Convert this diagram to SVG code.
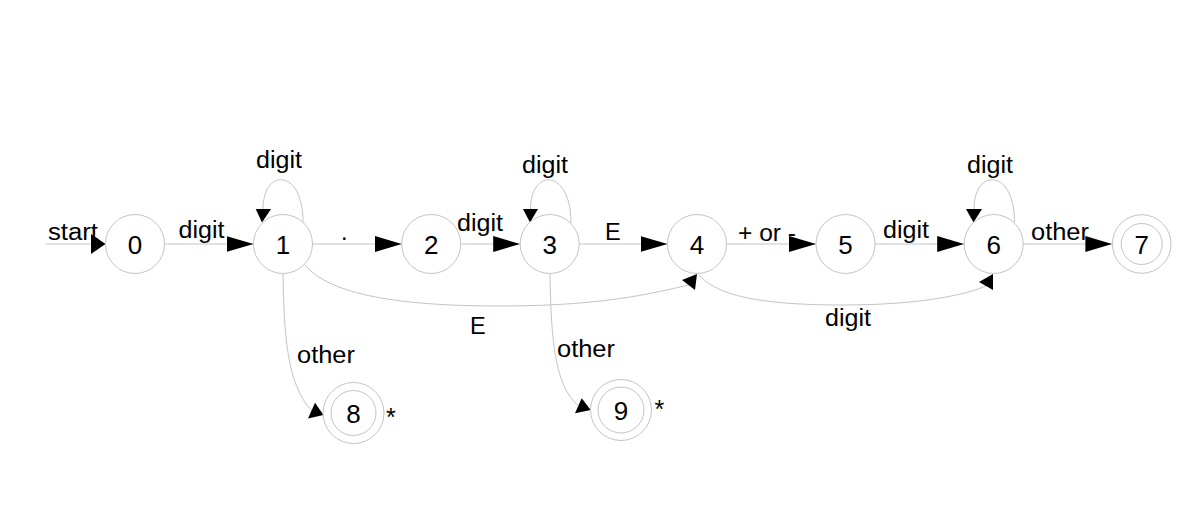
<svg xmlns="http://www.w3.org/2000/svg" width="1200" height="518" viewBox="0 0 1200 518">
<style>
.st{fill:#fff;stroke:#c4c4c4;stroke-width:1}
.num{font-family:"Liberation Sans",Arial,sans-serif;font-size:26px;fill:#000;text-anchor:middle}
.lbl{font-family:"Liberation Sans",Arial,sans-serif;font-size:23.5px;fill:#000}
.ast{font-family:"Liberation Sans",Arial,sans-serif;font-size:25px;fill:#000}
.ed{fill:none;stroke:#c4c4c4;stroke-width:1}
.ah{fill:#000;stroke:none}
</style>
<defs>
<marker id="big" markerUnits="userSpaceOnUse" markerWidth="27" markerHeight="16" refX="27" refY="8" orient="auto" viewBox="0 0 27 16">
<path d="M0,0 L27,8 L0,16 Z" fill="#000"/>
</marker>
</defs>
<rect width="1200" height="518" fill="#fff"/>
<g id="connectors">
<line class="ed" x1="46" y1="244" x2="105" y2="244"/>
<polygon class="ah" points="91,234 105.5,244 91,254"/>
<line class="ed" x1="164.5" y1="244" x2="253.5" y2="244" marker-end="url(#big)"/>
<line class="ed" x1="312.5" y1="244" x2="401.7" y2="244" marker-end="url(#big)"/>
<line class="ed" x1="460.7" y1="244" x2="520.2" y2="244" marker-end="url(#big)"/>
<line class="ed" x1="579.2" y1="244" x2="667.5" y2="244" marker-end="url(#big)"/>
<line class="ed" x1="726.5" y1="244" x2="816" y2="244" marker-end="url(#big)"/>
<line class="ed" x1="875" y1="244" x2="964.2" y2="244" marker-end="url(#big)"/>
<line class="ed" x1="1023.2" y1="244" x2="1112.4" y2="244" marker-end="url(#big)"/>
<path class="ed" d="M303,222 C303,168 263,168 263,209"/>
<polygon class="ah" points="255.7,209 271,209 262,222.5"/>
<path class="ed" d="M571,223 C571,168 530.5,168 530.5,209"/>
<polygon class="ah" points="523,209 538,209 530,222.5"/>
<path class="ed" d="M1014.5,222 C1014.5,168 974,168 974,209"/>
<polygon class="ah" points="966,209 982,209 973.5,222.5"/>
<path class="ed" d="M305,265 C330,295 400,306 500,306 C600,306 650,294 688.5,285"/>
<polygon class="ah" points="697,274 682,280 695,290"/>
<path class="ed" d="M699,275 C720,300 780,305 843,305 C910,305 960,297 986,286"/>
<polygon class="ah" points="993,274 979,282 993,290"/>
<path class="ed" d="M283,274 C284,335 287,385 311.7,410.5"/>
<polygon class="ah" points="323.5,415 308,418.5 315,402.7"/>
<path class="ed" d="M550,274 C551,330 553,385 578.3,405.8"/>
<polygon class="ah" points="590.7,410 575,413.3 581.7,398.3"/>
</g>
<g id="labels">
<text class="lbl" x="48" y="240" textLength="50" lengthAdjust="spacingAndGlyphs">start</text>
<text class="lbl" x="178.5" y="238" textLength="46" lengthAdjust="spacingAndGlyphs">digit</text>
<text class="lbl" x="341" y="240">.</text>
<text class="lbl" x="457" y="231" textLength="46" lengthAdjust="spacingAndGlyphs">digit</text>
<text class="lbl" x="605" y="240">E</text>
<text class="lbl" x="738" y="241" textLength="58" lengthAdjust="spacingAndGlyphs">+ or -</text>
<text class="lbl" x="883" y="238" textLength="46" lengthAdjust="spacingAndGlyphs">digit</text>
<text class="lbl" x="1031" y="239.5" textLength="58" lengthAdjust="spacingAndGlyphs">other</text>
<text class="lbl" x="256" y="168" textLength="46" lengthAdjust="spacingAndGlyphs">digit</text>
<text class="lbl" x="522" y="173" textLength="46" lengthAdjust="spacingAndGlyphs">digit</text>
<text class="lbl" x="967" y="173" textLength="46" lengthAdjust="spacingAndGlyphs">digit</text>
<text class="lbl" x="470" y="334">E</text>
<text class="lbl" x="825" y="326" textLength="46" lengthAdjust="spacingAndGlyphs">digit</text>
<text class="lbl" x="297" y="363" textLength="58" lengthAdjust="spacingAndGlyphs">other</text>
<text class="lbl" x="557" y="357" textLength="58" lengthAdjust="spacingAndGlyphs">other</text>
</g>
<g id="n0"><circle class="st" cx="135" cy="244" r="29.5"/><text class="num" x="135" y="253.5">0</text></g>
<g id="n1"><circle class="st" cx="283" cy="244" r="29.5"/><text class="num" x="283" y="253.5">1</text></g>
<g id="n2"><circle class="st" cx="431.2" cy="244" r="29.5"/><text class="num" x="431.2" y="253.5">2</text></g>
<g id="n3"><circle class="st" cx="549.7" cy="244" r="29.5"/><text class="num" x="549.7" y="253.5">3</text></g>
<g id="n4"><circle class="st" cx="697" cy="244" r="29.5"/><text class="num" x="697" y="253.5">4</text></g>
<g id="n5"><circle class="st" cx="845.5" cy="244" r="29.5"/><text class="num" x="845.5" y="253.5">5</text></g>
<g id="n6"><circle class="st" cx="993.7" cy="244" r="29.5"/><text class="num" x="993.7" y="253.5">6</text></g>
<g id="n7"><circle class="st" cx="1141.7" cy="244" r="29.3"/><circle class="st" cx="1141.7" cy="244" r="20.5"/><text class="num" x="1141.7" y="253.5">7</text></g>
<g id="n8"><circle class="st" cx="353.5" cy="413" r="30.5"/><circle class="st" cx="353.5" cy="413" r="22.5"/><text class="num" x="353.5" y="422.5">8</text><text class="ast" x="386" y="426">*</text></g>
<g id="n9"><circle class="st" cx="621" cy="410" r="30.5"/><circle class="st" cx="621" cy="410" r="23"/><text class="num" x="621" y="419.5">9</text><text class="ast" x="654.5" y="418">*</text></g>
</svg>
